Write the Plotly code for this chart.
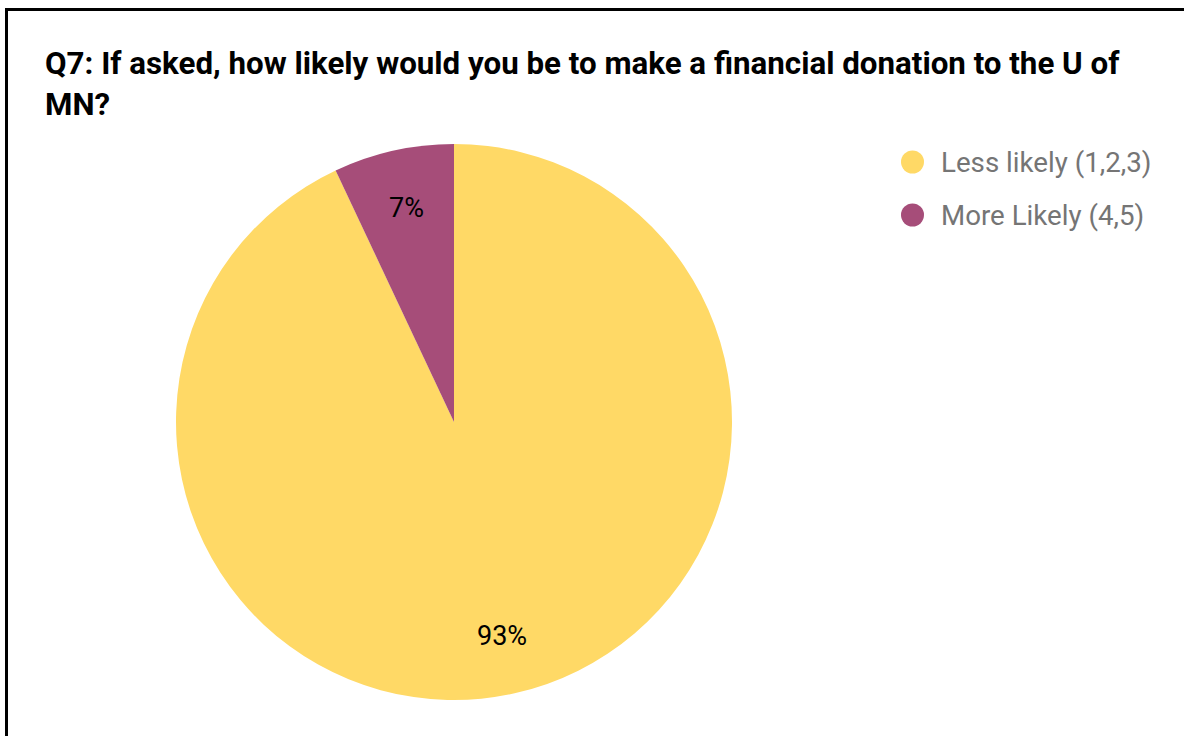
import math
import plotly.graph_objects as go

labels = ["Less likely (1,2,3)", "More Likely (4,5)"]
values = [93, 7]
colors = ["#FFD966", "#A64D79"]
title_text = "Q7: If asked, how likely would you be to make a financial donation to the U of<br>MN?"

W, H = 1184, 736
# pie placement in pixels
CX, CY, R = 454, 422, 278

fig = go.Figure()
fig.add_trace(go.Pie(
    labels=labels, values=values, sort=False, direction="clockwise", rotation=0,
    marker=dict(colors=colors, line=dict(width=0)),
    textinfo="none",
    domain=dict(x=[(CX - R) / W, (CX + R) / W], y=[1 - (CY + R) / H, 1 - (CY - R) / H]),
    showlegend=False, hoverinfo="label+percent",
))

shapes = []
annotations = []

# percentage labels placed at slice mid-angles (Google-chart style, ~0.79 r)
total = sum(values)
cum = 0.0
for v in values:
    mid = (cum + v / 2) / total * 2 * math.pi
    cum += v
    px = CX + 0.79 * R * math.sin(mid)
    py = CY - 0.79 * R * math.cos(mid)
    annotations.append(dict(text=f"{round(100 * v / total)}%", xref="paper", yref="paper",
                            x=px / W, y=1 - py / H, xanchor="center", yanchor="middle",
                            showarrow=False, font=dict(family="Roboto", size=27, color="#000000")))

# legend (circles + text to match the reference's large round markers)
for i, (lab, col) in enumerate(zip(labels, colors)):
    cy = 162 + 53 * i
    shapes.append(dict(type="circle", xref="paper", yref="paper",
                       x0=(912.5 - 11.5) / W, x1=(912.5 + 11.5) / W,
                       y0=1 - (cy + 11.5) / H, y1=1 - (cy - 11.5) / H,
                       fillcolor=col, line=dict(width=0)))
    annotations.append(dict(text=lab, xref="paper", yref="paper",
                            x=939 / W, y=1 - cy / H, xanchor="left", yanchor="middle",
                            showarrow=False, font=dict(family="Roboto", size=27.7, color="#757575")))

# frame lines
shapes.append(dict(type="line", xref="paper", yref="paper", x0=5 / W, x1=1.0,
                   y0=1 - 9.5 / H, y1=1 - 9.5 / H, line=dict(color="#000000", width=3)))
shapes.append(dict(type="line", xref="paper", yref="paper", x0=6.5 / W, x1=6.5 / W,
                   y0=0, y1=1 - 8 / H, line=dict(color="#000000", width=3)))

fig.update_layout(
    width=W, height=H,
    margin=dict(l=0, r=0, t=0, b=0),
    paper_bgcolor="#FFFFFF", plot_bgcolor="#FFFFFF",
    title=dict(text="<b>" + title_text + "</b>", x=45 / W, xanchor="left",
               y=1 - 74 / H, yanchor="top",
               font=dict(family="Roboto", size=31.3, color="#000000")),
    shapes=shapes, annotations=annotations,
    showlegend=False,
)

fig.write_html("out.html")
